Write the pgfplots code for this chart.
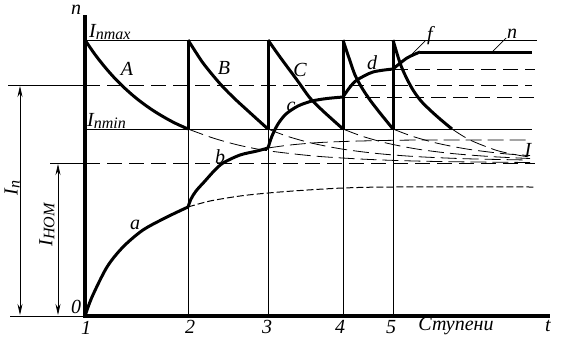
\documentclass[border=0pt]{standalone}
\usepackage{pgfplots}
\pgfplotsset{compat=1.18}
\usetikzlibrary{arrows.meta}
\usepackage{fontspec}
\setmainfont{Liberation Serif}
\begin{document}
\begin{tikzpicture}[
  tln/.style={line width=1pt},
  thk/.style={line width=3pt},
  dsh/.style={line width=1pt, dash pattern=on 15pt off 7pt},
  fdsh/.style={line width=1pt, dash pattern=on 7pt off 3pt},
  cdsh/.style={line width=0.8pt, dash pattern=on 16pt off 6pt},
  lbl/.style={font=\fontsize{20}{22}\selectfont\itshape, inner sep=0pt},
]
\begin{axis}[
  scale only axis, width=567pt, height=357pt,
  xmin=0, xmax=567, ymin=0, ymax=357, y dir=reverse,
  hide axis, clip=false,
  every axis plot/.append style={black, line join=round},
]
\addplot[draw=none] coordinates {(0,0) (567,357)};
% horizontal reference lines
\addplot[tln] coordinates {(85,40) (537,40)};
\addplot[tln] coordinates {(85,129) (532,129)};
\addplot[tln] coordinates {(8,85) (85,85)};
\addplot[dsh] coordinates {(85,85) (532,85)};
\addplot[tln] coordinates {(50,163) (85,163)};
\addplot[dsh] coordinates {(85,163) (535,163)};
\addplot[dsh] coordinates {(343,97) (535,97)};
\addplot[dsh] coordinates {(393,69) (535,69)};
% vertical step lines (thin part)
\addplot[tln] coordinates {(188,316) (188,129)};
\addplot[tln] coordinates {(268,316) (268,129)};
\addplot[tln] coordinates {(343,316) (343,129)};
\addplot[tln] coordinates {(393,316) (393,129)};
% x axis thin part
\addplot[tln] coordinates {(10,316) (85,316)};
% dimension arrows
\addplot[line width=0.8pt, {Stealth[length=11pt,width=5pt]}-{Stealth[length=11pt,width=5pt]}] coordinates {(20,86) (20,315)};
\addplot[line width=0.8pt, {Stealth[length=11pt,width=5pt]}-{Stealth[length=11pt,width=5pt]}] coordinates {(58,164) (58,315)};
% current continuations (thin dashed)
\addplot[cdsh, smooth] coordinates {(188,129) (213,138) (238,145) (263,150) (290,153.5) (320,156.5) (360,159) (400,160.6) (450,161.7) (530,162.5)};
\addplot[cdsh, smooth] coordinates {(268,129) (288,136.5) (313,143.4) (343,149.2) (378,153.6) (418,156.7) (468,158.8) (528,160)};
\addplot[cdsh, smooth] coordinates {(343,129) (363,136.5) (388,143.4) (418,149.2) (453,153.6) (493,156.7) (530,158.5)};
\addplot[cdsh, smooth] coordinates {(393,129) (413,136.5) (438,143.4) (468,149.2) (503,153.6) (530,155.5)};
\addplot[cdsh, smooth] coordinates {(452,129) (470,140) (497,150.5) (520,155.5) (530,157)};
% speed continuations
\addplot[fdsh, smooth] coordinates {(188,207) (210,201) (240,196) (268,193) (300,190.5) (343,188) (393,187) (535,187)};
\addplot[cdsh, smooth] coordinates {(268,148) (290,145) (320,142.5) (360,141) (420,140) (530,140)};
% leader lines
\addplot[line width=0.7pt] coordinates {(410,56) (425,41)};
\addplot[line width=0.7pt] coordinates {(492,52) (506,38)};
% axes thick
\addplot[line width=4pt] coordinates {(85,15) (85,318)};
\addplot[line width=3.5pt] coordinates {(85,316) (550,316)};
% vertical thick parts
\addplot[thk] coordinates {(188,129) (188,40)};
\addplot[thk] coordinates {(268,129) (268,40)};
\addplot[thk] coordinates {(343,129) (343,40)};
\addplot[thk] coordinates {(393,129) (393,40)};
% current curves
\addplot[thk, smooth] coordinates {(85,40) (95,54.5) (105,67.2) (115,78.5) (125,88.4) (135,97.2) (145,104.9) (155,111.7) (165,117.7) (175,123.1) (188,129)};
\addplot[thk, smooth] coordinates {(188,40) (196,52.5) (203,63) (213,75.5) (223,87) (235,99) (247,110) (258,120) (268,129)};
\addplot[thk, smooth] coordinates {(268,40) (280,57) (297,80) (310,98) (323,111) (343,129)};
\addplot[thk, smooth] coordinates {(343,40) (349,58) (355,75) (362,88) (370,100) (380,113) (393,129)};
\addplot[thk, smooth] coordinates {(393,40) (400,63) (406,77) (413,90) (421,101) (430,110) (440,119) (452,129)};
% speed curves
\addplot[thk, smooth] coordinates {(85,316) (92,297) (107,267) (123,247) (143,230) (167,217) (188,207)};
\addplot[thk, smooth] coordinates {(188,207) (191,199) (196,191) (205,181) (214,171) (223,163) (240,155) (257,151) (268,148)};
\addplot[thk, smooth] coordinates {(268,148) (272,136) (278,124) (286,114) (298,106) (312,101) (327,98.5) (343,97)};
\addplot[thk, smooth] coordinates {(343,97) (350,87) (357,80) (373,72) (393,69)};
\addplot[thk, smooth] coordinates {(393,69) (407,58) (420,52)};
\addplot[thk] coordinates {(420,52) (532,52)};
% labels
\node[lbl] at (axis cs:76,10) {n};
\node[lbl, anchor=base west] at (axis cs:89,37) {I\raisebox{-2pt}{\fontsize{16}{16}\selectfont nmax}};
\node[lbl, anchor=base west] at (axis cs:87,126) {I\raisebox{-2pt}{\fontsize{16}{16}\selectfont nmin}};
\node[lbl] at (axis cs:127,69) {A};
\node[lbl] at (axis cs:224,68) {B};
\node[lbl] at (axis cs:300,70) {C};
\node[lbl] at (axis cs:372,63) {d};
\node[lbl] at (axis cs:291,107) {c};
\node[lbl] at (axis cs:220,157) {b};
\node[lbl] at (axis cs:135,225) {a};
\node[lbl] at (axis cs:528,150) {I};
\node[lbl] at (axis cs:430,36) {f};
\node[lbl] at (axis cs:512,34) {n};
\node[lbl] at (axis cs:76,307) {0};
\node[lbl] at (axis cs:86,328) {1};
\node[lbl] at (axis cs:190,327) {2};
\node[lbl] at (axis cs:267,327) {3};
\node[lbl] at (axis cs:340,327) {4};
\node[lbl] at (axis cs:391,327) {5};
\node[lbl] at (axis cs:456,326) {Ступени};
\node[lbl] at (axis cs:548,326) {t};
\node[lbl, rotate=90] at (axis cs:12,188) {I\raisebox{-2pt}{\fontsize{16}{16}\selectfont n}};
\node[lbl, rotate=90] at (axis cs:47,225) {I\raisebox{-2pt}{\fontsize{16}{16}\selectfont НОМ}};
\end{axis}
\end{tikzpicture}
\end{document}
